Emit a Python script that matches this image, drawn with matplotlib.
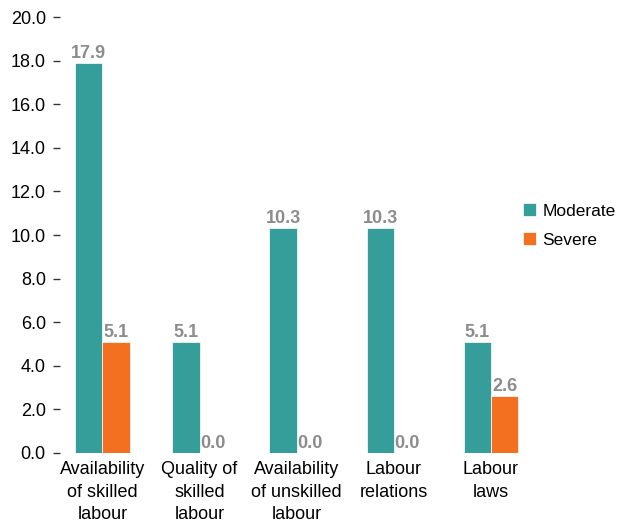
import numpy as np
import matplotlib.pyplot as plt

plt.rcParams['font.family'] = ['Liberation Sans', 'DejaVu Sans']

categories = ['Availability\nof skilled\nlabour', 'Quality of\nskilled\nlabour',
              'Availability\nof unskilled\nlabour', 'Labour\nrelations', 'Labour\nlaws']
moderate = [17.9, 5.1, 10.3, 10.3, 5.1]
severe = [5.1, 0.0, 0.0, 0.0, 2.6]

teal = '#369e9a'
orange = '#f37021'
grey = '#8c8c8c'

fig = plt.figure(figsize=(6.22, 5.24), dpi=100)
ax = fig.add_axes([0.096, 0.1355, 0.74, 0.832])

x = np.arange(len(categories))
w = 0.28
b1 = ax.bar(x - w / 2, moderate, w, color=teal, label='Moderate', edgecolor='white', linewidth=0.5)
b2 = ax.bar(x + w / 2, severe, w, color=orange, label='Severe', edgecolor='white', linewidth=0.5)

for bars in (b1, b2):
    for b in bars:
        h = b.get_height()
        ax.text(b.get_x() + b.get_width() / 2, h + 0.05, '%.1f' % h, ha='center', va='bottom',
                color=grey, fontsize=13, fontweight='bold')

ax.set_ylim(0, 20)
ax.set_xlim(-0.44, 4.3)
ax.set_yticks(np.arange(0, 21, 2))
ax.set_yticklabels(['%.1f' % v for v in np.arange(0, 21, 2)], fontsize=13)
ax.set_xticks(x)
ax.set_xticklabels(categories, fontsize=13, linespacing=1.4)
ax.tick_params(axis='y', length=5, width=1, color='#333333', pad=5)
ax.tick_params(axis='x', length=0, pad=6)
for s in ax.spines.values():
    s.set_visible(False)

fig.legend(loc='center left', bbox_to_anchor=(0.815, 0.57), frameon=False, fontsize=12.5,
           handlelength=0.8, handleheight=0.8, handletextpad=0.35, labelspacing=0.75)

fig.savefig('out.png', dpi=100)
